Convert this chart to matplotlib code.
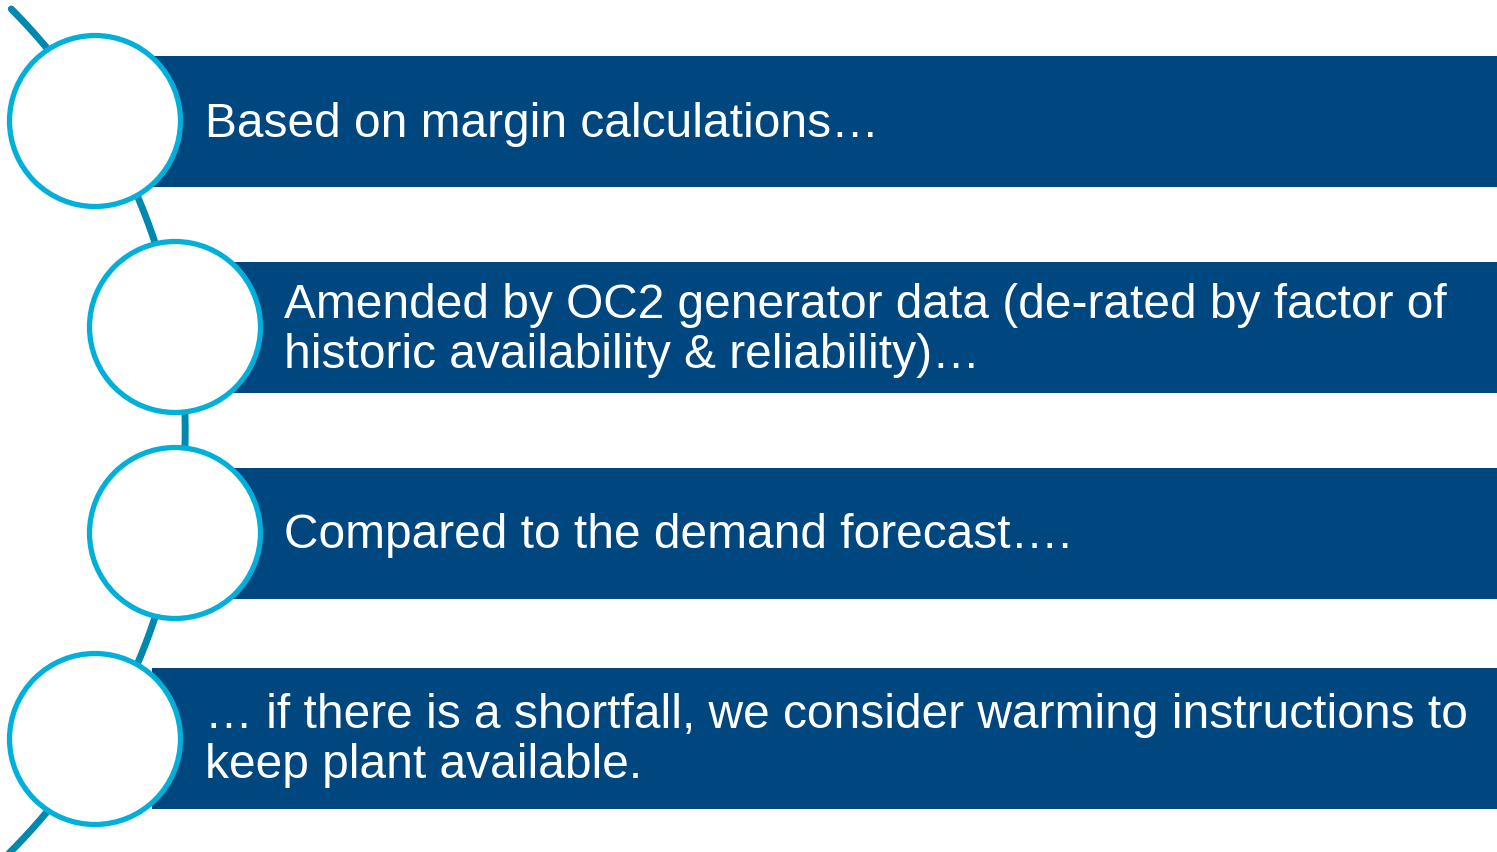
import numpy as np
import matplotlib
matplotlib.use("Agg")
import matplotlib.pyplot as plt
from matplotlib.patches import Rectangle, Circle

# ---- content ----
items = [
    ["Based on margin calculations…"],
    ["Amended by OC2 generator data (de-rated by factor of",
     "historic availability & reliability)…"],
    ["Compared to the demand forecast…."],
    ["… if there is a shortfall, we consider warming instructions to",
     "keep plant available."],
]

# ---- layout (pixels, figure 1497x853) ----
W, H = 1497, 853
bar_left = [152, 230, 230, 152]
bar_top = [57, 263, 469, 669]
bar_bottom = [188, 394, 600, 810]
circ_x = [95, 175, 175, 95]
circ_y = [122, 328, 534, 740]
circ_r = 85.5
text_x = [205, 284, 284, 205]

BAR = "#00467F"
RING = "#00B0DA"
ARC = "#0088AE"

fig = plt.figure(figsize=(W / 100, H / 100), dpi=100)
ax = fig.add_axes([0, 0, 1, 1])
ax.set_xlim(0, W)
ax.set_ylim(H, 0)
ax.axis("off")

# connecting arc
acx, acy, ar = -411.3, 431, 596.5
a0 = np.arcsin((10 - acy) / ar)
a1 = np.arcsin(min((880 - acy) / ar, 1.0))
t = np.linspace(a0, a1, 400)
ax.plot(acx + ar * np.cos(t), acy + ar * np.sin(t), color=ARC, lw=5,
        solid_capstyle="round", zorder=1)

for i, lines in enumerate(items):
    ax.add_patch(Rectangle((bar_left[i], bar_top[i]), W - bar_left[i] + 5,
                           bar_bottom[i] - bar_top[i], facecolor=BAR,
                           edgecolor="none", zorder=2))
    ax.add_patch(Circle((circ_x[i], circ_y[i]), circ_r, facecolor="white",
                        edgecolor=RING, lw=3.8, zorder=3))
    cy = (bar_top[i] + bar_bottom[i]) / 2
    n = len(lines)
    spacing = 50
    for j, s in enumerate(lines):
        base = cy + 14 + (j - (n - 1) / 2) * spacing
        ax.text(text_x[i], base, s, color="white", fontsize=34.5,
                family="Liberation Sans", va="baseline", ha="left", zorder=4)

fig.savefig("out.png", dpi=100)
